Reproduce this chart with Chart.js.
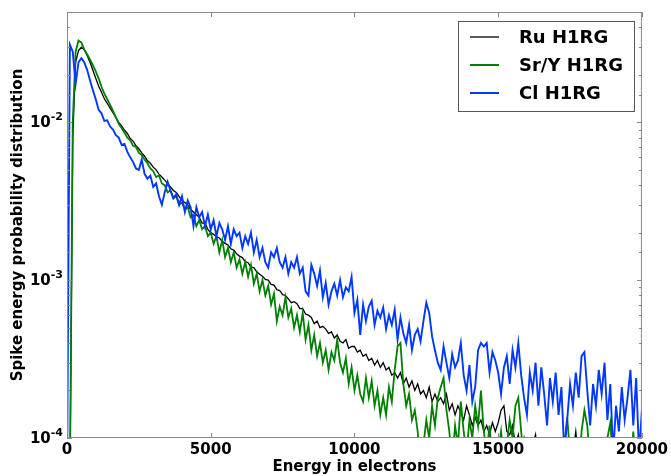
<!DOCTYPE html>
<html>
<head>
<meta charset="utf-8">
<script src="https://cdn.jsdelivr.net/npm/chart.js@4.4.1/dist/chart.umd.min.js"></script>
<style>
  body { margin: 0; background: #fff; }
</style>
</head>
<body>
<canvas id="chart" width="671" height="476"></canvas>
<script>
// bin energies (electrons)
const energies = [
  0, 100, 200, 300, 400, 500, 600, 700, 800, 900,
  1000, 1100, 1200, 1300, 1400, 1500, 1600, 1700, 1800, 1900,
  2000, 2100, 2200, 2300, 2400, 2500, 2600, 2700, 2800, 2900,
  3000, 3100, 3200, 3300, 3400, 3500, 3600, 3700, 3800, 3900,
  4000, 4100, 4200, 4300, 4400, 4500, 4600, 4700, 4800, 4900,
  5000, 5100, 5200, 5300, 5400, 5500, 5600, 5700, 5800, 5900,
  6000, 6100, 6200, 6300, 6400, 6500, 6600, 6700, 6800, 6900,
  7000, 7100, 7200, 7300, 7400, 7500, 7600, 7700, 7800, 7900,
  8000, 8100, 8200, 8300, 8400, 8500, 8600, 8700, 8800, 8900,
  9000, 9100, 9200, 9300, 9400, 9500, 9600, 9700, 9800, 9900,
  10000, 10100, 10200, 10300, 10400, 10500, 10600, 10700, 10800, 10900,
  11000, 11100, 11200, 11300, 11400, 11500, 11600, 11700, 11800, 11900,
  12000, 12100, 12200, 12300, 12400, 12500, 12600, 12700, 12800, 12900,
  13000, 13100, 13200, 13300, 13400, 13500, 13600, 13700, 13800, 13900,
  14000, 14100, 14200, 14300, 14400, 14500, 14600, 14700, 14800, 14900,
  15000, 15100, 15200, 15300, 15400, 15500, 15600, 15700, 15800, 15900,
  16000, 16100, 16200, 16300, 16400, 16500, 16600, 16700, 16800, 16900,
  17000, 17100, 17200, 17300, 17400, 17500, 17600, 17700, 17800, 17900,
  18000, 18100, 18200, 18300, 18400, 18500, 18600, 18700, 18800, 18900,
  19000, 19100, 19200, 19300, 19400, 19500, 19600, 19700, 19800, 19900,
  20000
];

const ruH1rg = [
  5e-5, 5e-5, 0.008, 0.024, 0.0285, 0.0299, 0.0288, 0.0265, 0.0240, 0.0214,
  0.0190, 0.0170, 0.0155, 0.0141, 0.0132, 0.0123, 0.0115, 0.0107, 0.0100, 0.0095,
  0.0089, 0.0085, 0.0079, 0.0076, 0.0071, 0.0068, 0.0064, 0.0061, 0.0057, 0.0055,
  0.0052, 0.0050, 0.0047, 0.0045, 0.0043, 0.0041, 0.0039, 0.0037, 0.0036, 0.0034,
  0.0032, 0.0031, 0.0030, 0.0028, 0.0027, 0.0026, 0.0025, 0.0023, 0.0023, 0.0021,
  0.0020, 0.00195, 0.00188, 0.00185, 0.00176, 0.00171, 0.00167, 0.00158, 0.00155, 0.00147,
  0.00142, 0.00139, 0.00131, 0.00129, 0.00121, 0.00120, 0.00113, 0.00109, 0.00106, 0.00101,
  0.00100, 0.00094, 0.00093, 0.00087, 0.00086, 0.00081, 0.00080, 0.00076, 0.00072, 0.00073,
  0.00071, 0.00066, 0.00066, 0.00061, 0.00060, 0.00058, 0.00053, 0.00055, 0.00050, 0.00051,
  0.00049, 0.00046, 0.00047, 0.00043, 0.00045, 0.00041, 0.00040, 0.00042, 0.00037, 0.00038,
  0.00038, 0.00035, 0.00036, 0.00033, 0.00034, 0.00031, 0.00032, 0.00029, 0.00031, 0.00028,
  0.00030, 0.00027, 0.00028, 0.00025, 0.00026, 0.00024, 0.00026, 0.00022, 0.00024, 0.00021,
  0.00023, 0.00020, 0.00022, 0.00019, 0.00020, 0.00018, 0.00021, 0.00017, 0.00019, 0.00017,
  0.00018, 0.000165, 0.00019, 0.00015, 0.000165, 0.00014, 0.00016, 0.000145, 0.00013, 0.00016,
  0.00014, 0.00012, 0.000135, 0.00012, 0.00013, 0.00011, 0.00012, 0.000105, 0.000125, 0.00011,
  0.000125, 0.00015, 0.00016, 0.00011, 0.000105, 0.00012, 0.00009, 0.000105, 0.00008, 0.0001,
  0.00008, 0.00007, 0.00009, 0.000105, 0.00007, 0.00008, 0.00006, 0.00008, 0.00007, 0.00006,
  0.00008, 0.00007, 0.00006, 0.00008, 0.00009, 0.00006, 0.00008, 0.00011, 0.00007, 0.00006,
  0.00005, 0.00007, 0.00005, 0.00006, 0.00008, 0.00005, 0.00006, 0.00005, 0.00007, 0.00005,
  0.00006, 0.00005, 0.00007, 0.00005, 0.00006, 0.00005, 0.00007, 0.00005, 0.00006, 0.00005,
  0.00005
];

const srYH1rg = [
  5e-5, 5e-5, 0.010, 0.028, 0.033, 0.032, 0.029, 0.027, 0.025, 0.023,
  0.021, 0.019, 0.0168, 0.0152, 0.0140, 0.0129, 0.0118, 0.0108, 0.0098, 0.0092,
  0.0086, 0.0080, 0.0077, 0.0071, 0.0070, 0.0064, 0.0062, 0.0058, 0.0055, 0.0051,
  0.0049, 0.0045, 0.0046, 0.0041, 0.0040, 0.0036, 0.0037, 0.0033, 0.0034, 0.0030,
  0.0031, 0.0028, 0.0029, 0.0025, 0.0026, 0.0022, 0.0024, 0.0021, 0.0022, 0.0019,
  0.0020, 0.0017, 0.0019, 0.0015, 0.0018, 0.0014, 0.0016, 0.0013, 0.0015, 0.0012,
  0.00135, 0.0011, 0.0013, 0.00105, 0.00125, 0.00095, 0.0011, 0.00085, 0.00100, 0.00080,
  0.00092, 0.00070, 0.00082, 0.00055, 0.00068, 0.00060, 0.00078, 0.00058, 0.00066, 0.00050,
  0.00060, 0.00047, 0.00062, 0.00042, 0.00052, 0.00036, 0.00045, 0.00033, 0.00040, 0.00030,
  0.00036, 0.00027, 0.00035, 0.00031, 0.00042, 0.00030, 0.00026, 0.00032, 0.00022, 0.00028,
  0.00020, 0.00025, 0.00019, 0.00017, 0.00024, 0.00018, 0.00023, 0.00016, 0.00020, 0.00014,
  0.00018, 0.00014, 0.00021, 0.00017, 0.00027, 0.00038, 0.00040, 0.00022, 0.00016, 0.00019,
  0.00013, 0.00015, 0.00011, 0.00006, 0.00009, 0.00013, 0.00010, 0.00016, 0.00012, 0.00018,
  0.00021, 0.00024, 0.00015, 0.00011, 0.00007, 0.00012, 0.00009, 0.00017, 0.00011, 0.00008,
  0.00013, 0.00010, 0.00016, 0.00012, 0.00020, 0.00011, 0.00008, 0.00012, 0.00007, 0.00006,
  0.00008, 0.00011, 0.00007, 0.00009, 0.00013, 0.00010, 0.00016, 0.00018, 0.00011, 0.00007,
  0.00006, 0.00008, 0.00005, 0.00007, 0.00005, 0.00006, 0.00008, 0.00005, 0.00006, 0.00005,
  0.00007, 0.00005, 0.00006, 0.00009, 0.000135, 0.00008, 0.00006, 0.00009, 0.00006, 0.00011,
  0.00015, 0.00012, 0.00007, 0.00005, 0.00009, 0.00006, 0.00008, 0.00006, 0.00010, 0.000125,
  0.00007, 0.00005, 0.00006, 0.00005, 0.00007, 0.00005, 0.00006, 0.00011, 0.00006, 0.00005,
  0.00005
];

const clH1rg = [
  5e-5, 0.031, 0.028, 0.0175, 0.024, 0.0255, 0.024, 0.0215, 0.0185, 0.0160,
  0.0140, 0.0120, 0.0114, 0.0102, 0.0103, 0.0094, 0.0090, 0.0083, 0.0080, 0.0072,
  0.0073, 0.0065, 0.0060, 0.0056, 0.0051, 0.0050, 0.0058, 0.0047, 0.0044, 0.0046,
  0.0039, 0.0041, 0.0034, 0.0030, 0.0036, 0.0042, 0.0037, 0.0033, 0.0035, 0.0030,
  0.0034, 0.0027, 0.0032, 0.0029, 0.0022, 0.0029, 0.0025, 0.0027, 0.0022, 0.0026,
  0.0021, 0.0024, 0.0019, 0.0023, 0.0021, 0.0018, 0.0022, 0.0017, 0.0021, 0.0019,
  0.0020, 0.0016, 0.0019, 0.0017, 0.0020, 0.0015, 0.0018, 0.0014, 0.0016, 0.0013,
  0.0012, 0.0015, 0.0014, 0.0016, 0.0013, 0.0012, 0.0014, 0.0011, 0.0013, 0.0012,
  0.0014, 0.0011, 0.0012, 0.00085, 0.00080, 0.00125, 0.00110, 0.00092, 0.00115, 0.00078,
  0.00096, 0.00070, 0.00085, 0.00095, 0.00080, 0.00100, 0.00078, 0.00090, 0.00085, 0.00105,
  0.00062, 0.00075, 0.00045, 0.00070, 0.00055, 0.00068, 0.00074, 0.00052, 0.00064, 0.00058,
  0.00067, 0.00049, 0.00060, 0.00052, 0.00065, 0.00042, 0.00058, 0.00046, 0.00040, 0.00052,
  0.00036, 0.00045, 0.00049, 0.00041, 0.00055, 0.00072, 0.00062, 0.00044, 0.00036, 0.00030,
  0.00027, 0.00038, 0.00030, 0.00024, 0.00034, 0.00028, 0.00031, 0.00040, 0.00025, 0.00020,
  0.00029, 0.00017, 0.00021, 0.00036, 0.00040, 0.00038, 0.00040, 0.00026, 0.00035, 0.00031,
  0.00026, 0.00019, 0.00028, 0.00033, 0.00022, 0.00036, 0.00028, 0.00040, 0.00025, 0.00018,
  0.00014, 0.00026, 0.00020, 0.00030, 0.00016, 0.00028, 0.00019, 0.00012, 0.00024, 0.00017,
  0.00026, 0.00014, 0.00021, 0.00008, 0.00013, 0.00022, 0.00016, 0.00026, 0.00018, 0.00033,
  0.00035, 0.00020, 0.00012, 0.00022, 0.00016, 0.00027, 0.00019, 0.00030, 0.00013, 0.00022,
  0.00008, 0.00016, 0.00011, 0.00021, 0.00013, 0.00018, 0.00027, 0.00012, 0.00024, 0.00008,
  0.00015
];

const seriesNames = ["Ru H1RG", "Sr/Y H1RG", "Cl H1RG"];
const seriesColors = ["#000000", "#008000", "#0038ff"];
const xTicks = [0, 5000, 10000, 15000, 20000];
const yDecades = [1e-4, 1e-3, 1e-2];

const FONT = "DejaVu Sans";
const frameColor = "#8a8a8a";

function toPoints(values) {
  return values.map((v, i) => ({ x: energies[i], y: v }));
}

function isDecade(v) {
  const l = Math.log10(v);
  return Math.abs(l - Math.round(l)) < 1e-6;
}

// frame, inward ticks, 10^n labels and legend like matplotlib
const mplFrame = {
  id: "mplFrame",
  afterDraw(chart) {
    const ctx = chart.ctx;
    const a = chart.chartArea;
    const xs = chart.scales.x;
    const ys = chart.scales.y;
    ctx.save();
    ctx.strokeStyle = frameColor;
    ctx.lineWidth = 1;
    ctx.strokeRect(a.left + 0.5, a.top + 0.5, a.right - a.left - 1, a.bottom - a.top - 1);
    ctx.beginPath();
    xTicks.forEach((t) => {
      const px = Math.round(xs.getPixelForValue(t)) + 0.5;
      ctx.moveTo(px, a.bottom);
      ctx.lineTo(px, a.bottom - 5);
      ctx.moveTo(px, a.top);
      ctx.lineTo(px, a.top + 5);
    });
    ys.ticks.forEach((t) => {
      const len = isDecade(t.value) ? 5 : 3;
      const py = Math.round(ys.getPixelForValue(t.value)) + 0.5;
      ctx.moveTo(a.left, py);
      ctx.lineTo(a.left + len, py);
      ctx.moveTo(a.right, py);
      ctx.lineTo(a.right - len, py);
    });
    ctx.stroke();

    // y labels 10^n with a raised exponent
    ctx.fillStyle = "#000";
    ctx.textBaseline = "middle";
    ctx.textAlign = "right";
    yDecades.forEach((v) => {
      const py = ys.getPixelForValue(v);
      const exp = String(Math.round(Math.log10(v)));
      ctx.font = "bold 11px '" + FONT + "'";
      const ew = ctx.measureText(exp).width;
      ctx.fillText(exp, a.left - 4, py - 5);
      ctx.font = "bold 15px '" + FONT + "'";
      ctx.fillText("10", a.left - 4 - ew, py + 1);
    });
    ctx.textAlign = "left";

    // legend box
    const bx = 458, by = 21, bw = 176, bh = 90;
    ctx.fillStyle = "#fff";
    ctx.fillRect(bx, by, bw, bh);
    ctx.strokeStyle = "#555";
    ctx.strokeRect(bx + 0.5, by + 0.5, bw, bh);
    ctx.font = "bold 18px '" + FONT + "'";
    seriesNames.forEach((name, i) => {
      const y = by + 16 + i * 28;
      ctx.strokeStyle = seriesColors[i];
      ctx.lineWidth = i === 0 ? 1.3 : 2;
      ctx.beginPath();
      ctx.moveTo(bx + 12, y);
      ctx.lineTo(bx + 41, y);
      ctx.stroke();
      ctx.fillStyle = "#000";
      ctx.fillText(name, bx + 61, y + 1);
    });
    ctx.restore();
  }
};

new Chart(document.getElementById("chart"), {
  type: "line",
  data: {
    datasets: [
      { label: seriesNames[0], data: toPoints(ruH1rg), borderColor: seriesColors[0], borderWidth: 1.3, order: 3 },
      { label: seriesNames[1], data: toPoints(srYH1rg), borderColor: seriesColors[1], borderWidth: 1.8, order: 2 },
      { label: seriesNames[2], data: toPoints(clH1rg), borderColor: seriesColors[2], borderWidth: 1.9, order: 1 }
    ]
  },
  options: {
    responsive: false,
    animation: false,
    devicePixelRatio: 1,
    elements: { point: { radius: 0 }, line: { tension: 0 } },
    layout: { padding: { top: 12, right: 26, left: 0, bottom: 0 } },
    plugins: { legend: { display: false }, tooltip: { enabled: false } },
    scales: {
      x: {
        type: "linear",
        min: 0,
        max: 20000,
        afterBuildTicks: (s) => { s.ticks = xTicks.map((v) => ({ value: v })); },
        afterFit: (s) => { s.height = 38; },
        grid: { display: false, drawTicks: false },
        border: { display: false },
        ticks: {
          padding: 3,
          color: "#000",
          font: { family: FONT, size: 15, weight: "bold" },
          maxRotation: 0,
          callback: (v) => String(v)
        },
        title: {
          display: true,
          text: "Energy in electrons",
          color: "#000",
          font: { family: FONT, size: 15, weight: "bold" },
          padding: { top: 0, bottom: 0 }
        }
      },
      y: {
        type: "logarithmic",
        min: 1e-4,
        max: 0.05,
        afterFit: (s) => { s.width = 67; },
        grid: { display: false, drawTicks: false },
        border: { display: false },
        ticks: {
          autoSkip: false,
          callback: () => ""
        },
        title: {
          display: true,
          text: "Spike energy probability distribution",
          color: "#000",
          font: { family: FONT, size: 15, weight: "bold" },
          padding: { top: 9, bottom: 0 }
        }
      }
    }
  },
  plugins: [mplFrame]
});
</script>
</body>
</html>
